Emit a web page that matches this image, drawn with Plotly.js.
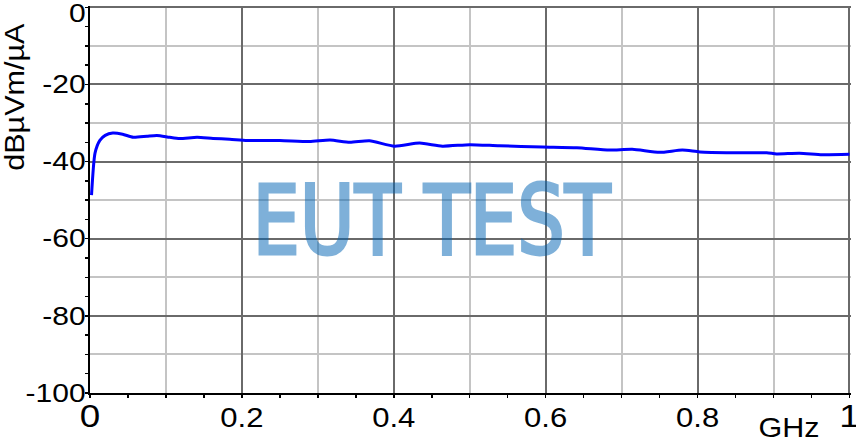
<!DOCTYPE html>
<html>
<head>
<meta charset="utf-8">
<script src="https://cdn.plot.ly/plotly-3.0.1.min.js"></script>
<style>html,body{margin:0;padding:0;background:#fff;}#chart{width:856px;height:443px;}</style>
</head>
<body>
<div id="chart"></div>
<script>
// Frequency (GHz)
const freqGHz = [0.002, 0.0066, 0.013, 0.02, 0.03, 0.043, 0.057, 0.075, 0.088, 0.105, 0.118, 0.141, 0.162, 0.184, 0.207, 0.25, 0.289, 0.316, 0.342, 0.368, 0.401, 0.434, 0.464, 0.5, 0.539, 0.596, 0.641, 0.684, 0.714, 0.75, 0.78, 0.803, 0.846, 0.891, 0.904, 0.934, 0.964, 1.0];
// Level (dBµVm/µA)
const levelDb = [-48.7, -37.8, -34.5, -33.2, -32.6, -32.9, -33.7, -33.4, -33.2, -33.7, -34.0, -33.7, -34.0, -34.2, -34.5, -34.5, -34.8, -34.4, -35.0, -34.6, -36.0, -35.2, -36.0, -35.6, -35.9, -36.2, -36.4, -37.0, -36.8, -37.6, -37.0, -37.5, -37.7, -37.7, -38.0, -37.8, -38.2, -38.1];

const xMajorVals = [0, 0.2, 0.4, 0.6, 0.8, 1];
const xMajorText = ['<span style="font-size:32px">0</span>', '0.2', '0.4', '0.6', '0.8', '<span style="font-size:32px">1</span>'];
const xMinorGridVals = [0.1, 0.3, 0.5, 0.7, 0.9];
const xTickVals = [0, 0.05, 0.1, 0.15, 0.2, 0.25, 0.3, 0.35, 0.4, 0.45, 0.5, 0.55, 0.6, 0.65, 0.7, 0.75, 0.8, 0.85, 0.9, 0.95, 1];
const yMajorVals = [0, -20, -40, -60, -80, -100];
const yMajorText = ['0', '-20', '-40', '-60', '-80', '-100'];
const yMinorGridVals = [-10, -30, -50, -70, -90];
const yTickVals = [0, -5, -10, -15, -20, -25, -30, -35, -40, -45, -50, -55, -60, -65, -70, -75, -80, -85, -90, -95, -100];

const xLabel = 'GHz';
const yLabel = 'dBµVm/µA';
const watermark = 'EUT TEST';

const FONT = 'Liberation Sans, Arial, sans-serif';
const MAJOR = '#6a6a6a', MINOR = '#c4c4c4';
const X_RANGE = [0, 1.002], Y_RANGE = [-100, 0.35];

const trace = {
  x: freqGHz, y: levelDb, type: 'scatter', mode: 'lines',
  line: {color: '#0000ff', width: 3, shape: 'spline', smoothing: 0.6},
  hoverinfo: 'skip', showlegend: false
};
// carrier for the minor-tick axes (draws nothing)
const tickCarrier = {
  x: freqGHz, y: levelDb, xaxis: 'x2', yaxis: 'y2', type: 'scatter', mode: 'none',
  hoverinfo: 'skip', showlegend: false
};

const layout = {
  width: 856, height: 443,
  margin: {l: 90, r: 5, t: 6, b: 50},
  paper_bgcolor: '#ffffff', plot_bgcolor: '#ffffff',
  font: {family: FONT, size: 25, color: '#000'},
  showlegend: false,
  xaxis: {
    range: X_RANGE, tickmode: 'array', tickvals: xMajorVals, ticktext: xMajorText,
    showgrid: true, gridcolor: MAJOR, gridwidth: 2,
    zeroline: false, showline: true, linecolor: '#000', linewidth: 2,
    ticks: '', tickfont: {family: FONT, size: 27, color: '#000'}, ticklabelstandoff: 0,
    ticklabeloverflow: 'allow',
    minor: {tickmode: 'array', tickvals: xMinorGridVals, showgrid: true, gridcolor: MINOR, gridwidth: 2, ticks: ''},
    fixedrange: true
  },
  xaxis2: {
    range: X_RANGE, overlaying: 'x', anchor: 'y', side: 'bottom',
    tickmode: 'array', tickvals: xTickVals, ticks: 'outside', ticklen: 4, tickwidth: 1.5, tickcolor: '#000',
    showticklabels: false, showgrid: false, zeroline: false, showline: false, fixedrange: true
  },
  yaxis: {
    range: Y_RANGE, tickmode: 'array', tickvals: yMajorVals, ticktext: yMajorText,
    showgrid: true, gridcolor: MAJOR, gridwidth: 2,
    zeroline: false, showline: true, linecolor: '#000', linewidth: 2,
    ticks: '', tickfont: {family: FONT, size: 25, color: '#000'}, ticklabelstandoff: 7,
    ticklabeloverflow: 'allow',
    minor: {tickmode: 'array', tickvals: yMinorGridVals, showgrid: true, gridcolor: MINOR, gridwidth: 2, ticks: ''},
    fixedrange: true
  },
  yaxis2: {
    range: Y_RANGE, overlaying: 'y', anchor: 'x', side: 'left',
    tickmode: 'array', tickvals: yTickVals, ticks: 'outside', ticklen: 4, tickwidth: 1.5, tickcolor: '#000',
    showticklabels: false, showgrid: false, zeroline: false, showline: false, fixedrange: true
  },
  annotations: [
    {text: yLabel, xref: 'paper', yref: 'paper', x: -0.0987, y: 0.764,
     xanchor: 'center', yanchor: 'middle', textangle: -90, showarrow: false,
     font: {family: FONT, size: 27, color: '#000'}},
    {text: xLabel, xref: 'paper', yref: 'paper', x: 0.918, y: -0.088,
     xanchor: 'center', yanchor: 'middle', showarrow: false,
     font: {family: FONT, size: 28, color: '#000'}},
    {text: watermark, xref: 'paper', yref: 'paper', x: 0.449, y: 0.444,
     xanchor: 'center', yanchor: 'middle', showarrow: false,
     font: {family: 'DejaVu Sans Condensed, sans-serif', size: 96, color: 'rgb(0,100,180)'}}
  ]
};

function stretch(el, sx, origin) {
  el.style.transformBox = 'fill-box';
  el.style.transformOrigin = origin;
  el.style.transform = 'scale(' + sx + ',1)';
}
// widen a tick label about its own anchor point, keeping Plotly's placement
function widenTick(el, sx, dx, dy) {
  const tr = el.getAttribute('transform') || '';
  el.setAttribute('transform', tr + ' translate(' + dx + ',' + dy + ') scale(' + sx + ',1)');
}

Plotly.newPlot('chart', [trace, tickCarrier], layout, {staticPlot: true, displayModeBar: false}).then(function (gd) {
  // the reference typeface is wider than Arial: widen the labels
  gd.querySelectorAll('.ytick text').forEach(t => widenTick(t, 1.2, -7, t.textContent === '0' ? 6 : 0));
  gd.querySelectorAll('.xtick text').forEach(t => widenTick(t, 1.15, 0, 0));
  const anns = Array.from(gd.querySelectorAll('.annotation-text'));
  const yt = anns.find(t => t.textContent === yLabel);
  if (yt) stretch(yt, 147 / yt.getBBox().width, 'center');
  const xt = anns.find(t => t.textContent === xLabel);
  if (xt) stretch(xt, 61 / xt.getBBox().width, 'center');
  const wm = anns.find(t => t.textContent === watermark);
  if (wm) {
    wm.style.opacity = '0.5';
    wm.style.stroke = 'rgb(0,100,180)';
    wm.style.strokeWidth = '3px';
    stretch(wm, 359 / wm.getBBox().width, 'center');
  }
});
</script>
</body>
</html>
